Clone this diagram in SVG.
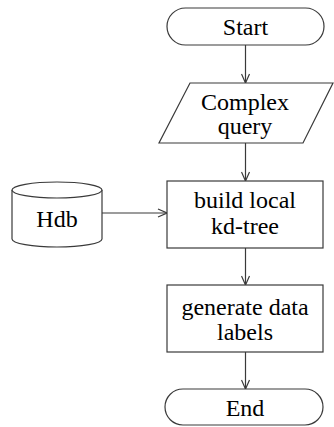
<svg xmlns="http://www.w3.org/2000/svg" width="334" height="427" viewBox="0 0 334 427">
  <style>
    .shape { fill: #ffffff; stroke: #3a3a3a; stroke-width: 1.2; }
    .edge { fill: none; stroke: #3a3a3a; stroke-width: 1.2; marker-end: url(#arrow); }
    .label { font-family: 'Liberation Serif', Tinos, 'Times New Roman', serif; font-size: 24px; fill: #000000; text-anchor: middle; }
  </style>
  <defs>
    <marker id="arrow" viewBox="0 0 10 10" refX="10" refY="5" markerWidth="10" markerHeight="10" markerUnits="userSpaceOnUse" orient="auto">
      <path d="M1,1 L10,5 L1,9" fill="none" stroke="#3a3a3a" stroke-width="1.2"/>
    </marker>
  </defs>
  <rect width="334" height="427" fill="#ffffff"/>

  <!-- flow arrows -->
  <g id="connectors">
    <line class="edge" x1="245.5" y1="45" x2="245.5" y2="83"/>
    <line class="edge" x1="245.5" y1="143" x2="245.5" y2="181"/>
    <line class="edge" x1="102" y1="213" x2="167" y2="213"/>
    <line class="edge" x1="245.5" y1="248" x2="245.5" y2="285"/>
    <line class="edge" x1="245.5" y1="352" x2="245.5" y2="389"/>
  </g>

  <g id="start">
    <rect class="shape" x="167" y="8" width="157" height="37" rx="18.5" ry="18.5"/>
    <text class="label" x="245.5" y="35">Start</text>
  </g>

  <g id="complex-query">
    <polygon class="shape" points="190,83 333,83 303,143 159,143"/>
    <text class="label" x="245" y="110">Complex</text>
    <text class="label" x="245" y="134">query</text>
  </g>

  <!-- database cylinder -->
  <g id="hdb">
    <path class="shape" d="M12,190 L12,239 A45,8 0 0 0 102,239 L102,190 A45,8 0 0 0 12,190 Z"/>
    <path class="shape" d="M12,190 A45,8 0 0 0 102,190" fill="none"/>
    <text class="label" x="57" y="227">Hdb</text>
  </g>

  <g id="build-kdtree">
    <rect class="shape" x="167" y="181" width="156" height="67"/>
    <text class="label" x="245" y="208">build local</text>
    <text class="label" x="245" y="234">kd-tree</text>
  </g>

  <g id="generate-labels">
    <rect class="shape" x="167" y="285" width="156" height="67"/>
    <text class="label" x="245" y="315">generate data</text>
    <text class="label" x="245" y="340">labels</text>
  </g>

  <g id="end">
    <rect class="shape" x="165" y="389" width="158" height="36" rx="18" ry="18"/>
    <text class="label" x="245" y="416">End</text>
  </g>
</svg>
